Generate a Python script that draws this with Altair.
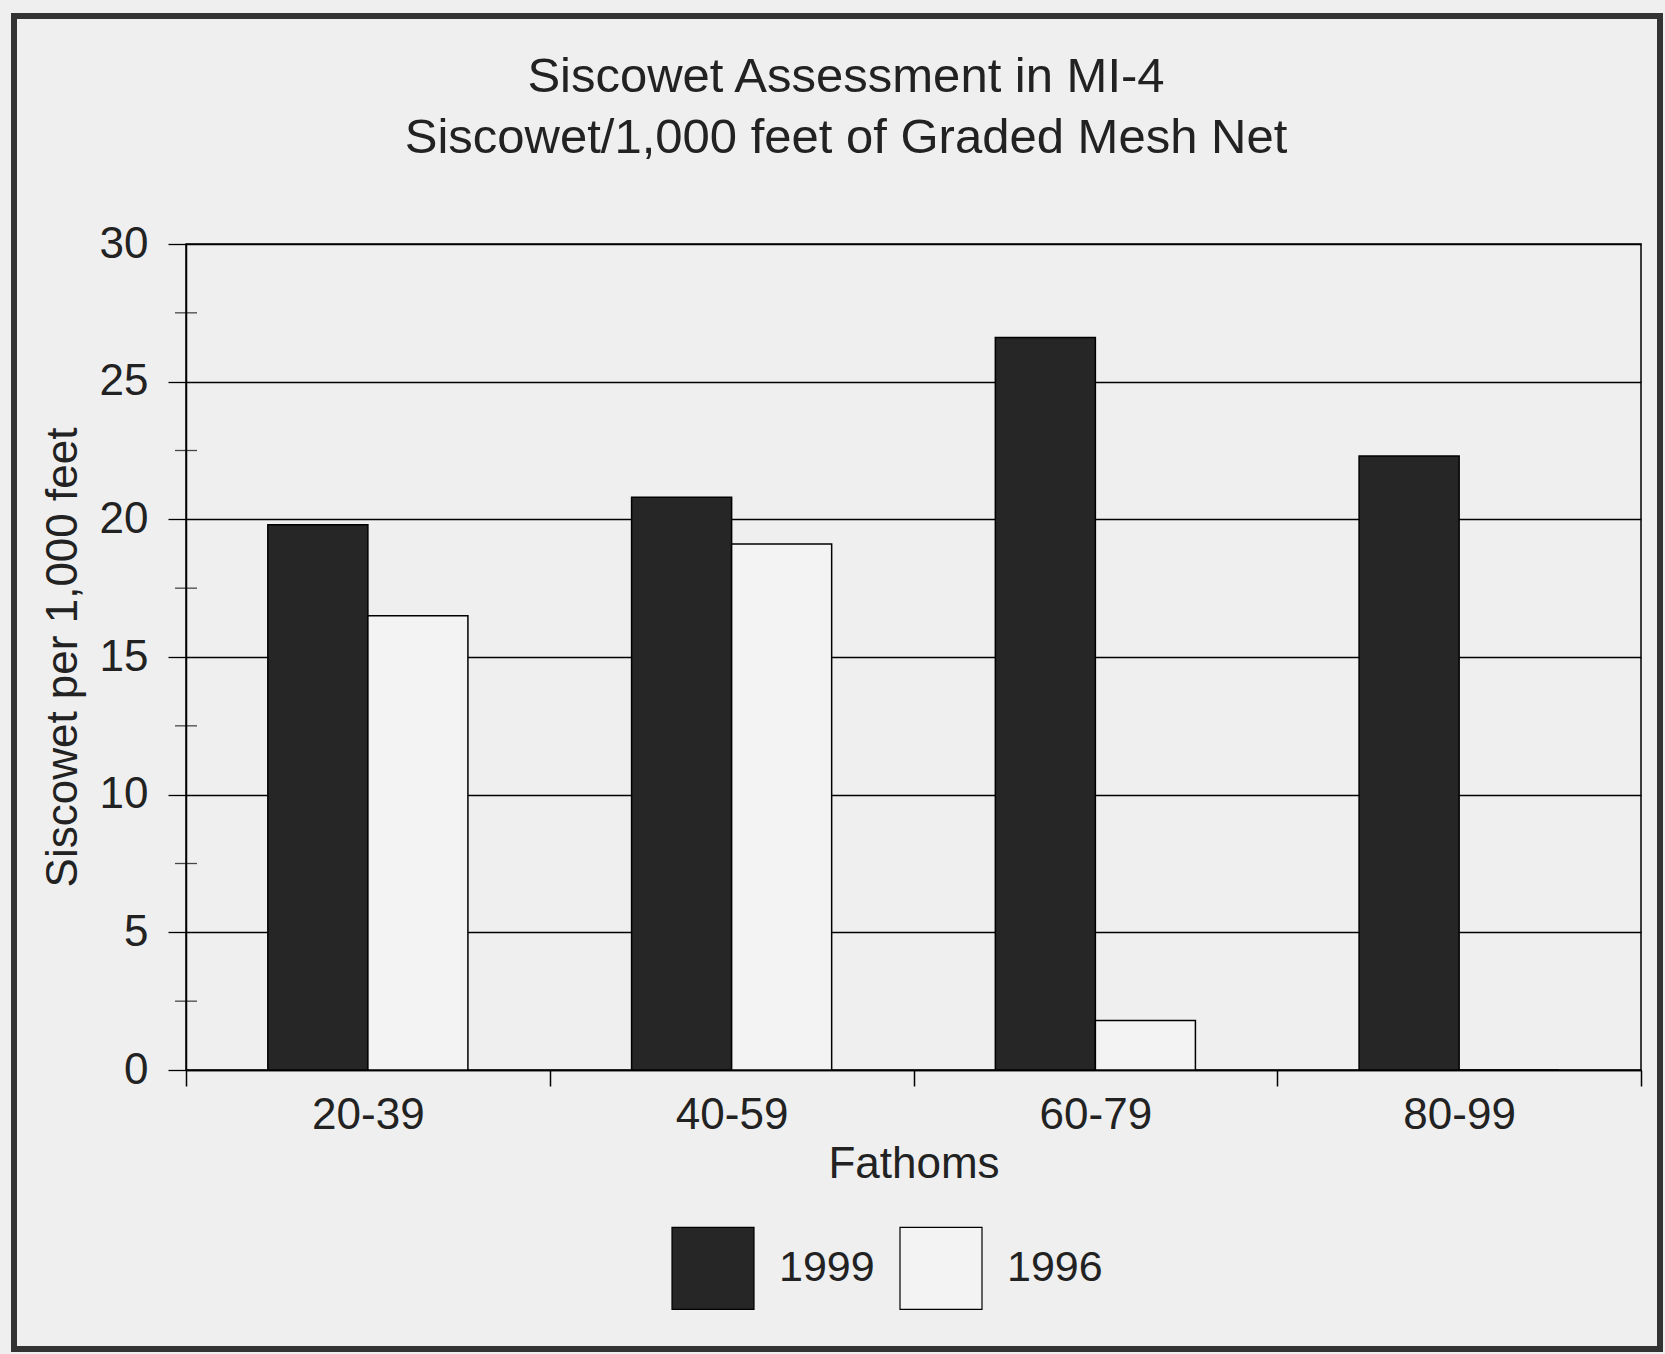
import altair as alt
import pandas as pd

categories = ["20-39", "40-59", "60-79", "80-99"]
years = ["1999", "1996"]
values_1999 = [19.8, 20.8, 26.6, 22.3]
values_1996 = [16.5, 19.1, 1.8, 0.0]
minor_ticks = [2.5, 7.5, 12.5, 17.5, 22.5, 27.5]
title_lines = ["Siscowet Assessment in MI-4", "Siscowet/1,000 feet of Graded Mesh Net"]

rows = []
for c, v in zip(categories, values_1999):
    rows.append({"Fathoms": c, "Year": "1999", "Value": v})
for c, v in zip(categories, values_1996):
    rows.append({"Fathoms": c, "Year": "1996", "Value": v})
df = pd.DataFrame(rows)
minor_df = pd.DataFrame({"t": minor_ticks})

FONT = "Liberation Sans"
TXT = "#222222"
BG = "#efefef"

bars = alt.Chart(df).mark_bar(stroke="black", strokeWidth=1.5).encode(
    x=alt.X("Fathoms:N", sort=categories, title="Fathoms",
            scale=alt.Scale(paddingInner=0, paddingOuter=0),
            axis=alt.Axis(labelAngle=0, labelFontSize=44, titleFontSize=44,
                          labelPadding=7, titlePadding=5, tickBand="extent",
                          tickSize=16, tickColor="black", tickWidth=1.5,
                          domainColor="black", domainWidth=1.5,
                          labelColor=TXT, titleColor=TXT, labelFont=FONT,
                          titleFont=FONT, titleFontWeight="normal")),
    xOffset=alt.XOffset("Year:N", sort=years,
                        scale=alt.Scale(paddingInner=0, paddingOuter=0.818)),
    y=alt.Y("Value:Q", title="Siscowet per 1,000 feet",
            scale=alt.Scale(domain=[0, 30], nice=False),
            axis=alt.Axis(values=[0, 5, 10, 15, 20, 25, 30], labelFontSize=44,
                          titleFontSize=44, tickSize=18, labelPadding=20,
                          titlePadding=14, grid=True, gridColor="black",
                          gridWidth=1.3, gridOpacity=1, tickColor="black",
                          tickWidth=1.3, domainColor="black", domainWidth=1.5,
                          labelColor=TXT, titleColor=TXT, labelFont=FONT,
                          titleFont=FONT, titleFontWeight="normal")),
    color=alt.Color("Year:N", sort=years,
                    scale=alt.Scale(domain=years, range=["#262626", "#f3f3f3"]),
                    legend=alt.Legend(title=None, orient="none", direction="horizontal",
                                      legendX=485, legendY=982, symbolType="square",
                                      symbolSize=6724, symbolStrokeColor="black",
                                      symbolStrokeWidth=1.2, labelFontSize=43,
                                      labelFont=FONT, labelColor=TXT, labelOffset=24,
                                      columnPadding=22, padding=0,
                                      symbolOpacity=1)),
)

minor = alt.Chart(minor_df).mark_tick(orient="horizontal", color="black",
                                       thickness=1.3, size=22).encode(
    y=alt.Y("t:Q"),
    x=alt.value(0),
)

frame = alt.Chart(pd.DataFrame({"a": [0]})).mark_rect(
    fill=None, stroke="#333333", strokeWidth=6, clip=False).encode(
    x=alt.value(-172), x2=alt.value(1474), y=alt.value(-228), y2=alt.value(1105)
)

title1 = alt.Chart(pd.DataFrame({"t": [title_lines[0]]})).mark_text(
    font=FONT, fontSize=49, color=TXT, align="center", baseline="alphabetic",
    clip=False).encode(text="t:N", x=alt.value(660), y=alt.value(-152))
title2 = alt.Chart(pd.DataFrame({"t": [title_lines[1]]})).mark_text(
    font=FONT, fontSize=49, color=TXT, align="center", baseline="alphabetic",
    clip=False).encode(text="t:N", x=alt.value(660), y=alt.value(-91))

chart = alt.layer(frame, bars, minor, title1, title2).properties(
    width=1455, height=826,
    autosize=alt.AutoSizeParams(type="none"),
    padding={"left": 186, "top": 244, "right": 24, "bottom": 284},
    background=BG,
).configure_view(stroke="black", strokeWidth=1.5, fill=BG)

chart.save("out.html", embed_options={"renderer": "svg", "actions": False})
